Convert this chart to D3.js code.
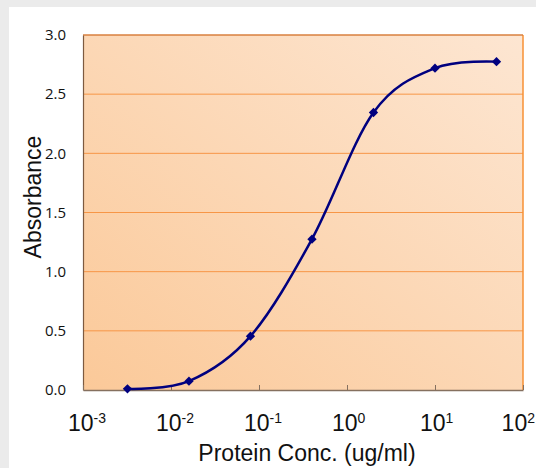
<!DOCTYPE html>
<html>
<head>
<meta charset="utf-8">
<script src="https://cdn.jsdelivr.net/npm/d3@7"></script>
<style>
  html, body { margin: 0; padding: 0; background: #ebebeb; }
  svg { display: block; }
</style>
</head>
<body>
<div id="chart"></div>
<script>
// data
var conc = [0.0032, 0.016, 0.08, 0.4, 2, 10, 50];
var absorbance = [0.01, 0.075, 0.455, 1.275, 2.345, 2.72, 2.775];
var yTicks = [0, 0.5, 1.0, 1.5, 2.0, 2.5, 3.0];
var xTicks = [1e-3, 1e-2, 1e-1, 1e0, 1e1, 1e2];
var xExponents = ["-3", "-2", "-1", "0", "1", "2"];

var width = 536, height = 468;
var plotLeft = 83, plotRight = 523, plotTop = 35, plotBottom = 390;

var svg = d3.select("#chart").append("svg")
  .attr("width", width)
  .attr("height", height);

// white panel on grey page
svg.append("rect")
  .attr("x", 9).attr("y", 7)
  .attr("width", width - 9).attr("height", height - 7)
  .attr("fill", "#ffffff");

var defs = svg.append("defs");
var grad = defs.append("linearGradient")
  .attr("id", "plotFill")
  .attr("x1", "0%").attr("y1", "100%")
  .attr("x2", "100%").attr("y2", "0%");
grad.append("stop").attr("offset", "0%").attr("stop-color", "#fbc999");
grad.append("stop").attr("offset", "100%").attr("stop-color", "#fde6d2");

var x = d3.scaleLog()
  .domain([1e-3, 1e2])
  .range([plotLeft, plotRight]);

var y = d3.scaleLinear()
  .domain([0, 3])
  .range([plotBottom, plotTop]);

// plot area
svg.append("rect")
  .attr("x", plotLeft).attr("y", plotTop)
  .attr("width", plotRight - plotLeft).attr("height", plotBottom - plotTop)
  .attr("fill", "url(#plotFill)");

// gridlines
svg.append("g")
  .selectAll("line")
  .data(yTicks.filter(function(d) { return d > 0; }))
  .enter().append("line")
    .attr("x1", plotLeft).attr("x2", plotRight)
    .attr("y1", function(d) { return y(d); })
    .attr("y2", function(d) { return y(d); })
    .attr("stroke", "#f79646")
    .attr("stroke-width", 1);

// borders
svg.append("line")
  .attr("x1", plotRight).attr("x2", plotRight).attr("y1", plotTop).attr("y2", plotBottom)
  .attr("stroke", "#f79035").attr("stroke-width", 1.5);
svg.append("line")
  .attr("x1", plotLeft).attr("x2", plotRight).attr("y1", plotTop).attr("y2", plotTop)
  .attr("stroke", "#c8753a").attr("stroke-width", 1);

// y axis
var yAxis = svg.append("g")
  .attr("transform", "translate(" + plotLeft + ",0)")
  .call(d3.axisLeft(y).tickValues(yTicks).tickSize(0).tickPadding(17)
    .tickFormat(d3.format(".1f")));
yAxis.select(".domain").attr("stroke", "#7d5a40").attr("stroke-width", 1.2);
yAxis.selectAll("text")
  .attr("font-family", "'Open Sans', sans-serif")
  .attr("font-size", 15)
  .attr("fill", "#111");

// x axis with inward ticks
var xAxis = svg.append("g")
  .attr("transform", "translate(0," + plotBottom + ")")
  .call(d3.axisBottom(x).tickValues(xTicks).tickSizeInner(-5).tickSizeOuter(0)
    .tickFormat(""));
xAxis.select(".domain").attr("stroke", "#85705f").attr("stroke-width", 1.5);
xAxis.selectAll(".tick line").attr("stroke", "#85705f");

// power-of-ten labels
var xLabels = svg.append("g")
  .selectAll("text")
  .data(xTicks)
  .enter().append("text")
    .attr("x", function(d) { return x(d) - 15; })
    .attr("y", 431)
    .attr("font-family", "'Liberation Sans', Arial, sans-serif")
    .attr("font-size", 23)
    .attr("fill", "#111");
xLabels.append("tspan").text("10");
xLabels.append("tspan")
  .attr("dy", -8)
  .attr("font-size", 14)
  .text(function(d, i) { return xExponents[i]; });
// keep the last label inside the window
xLabels.each(function() {
  var t = d3.select(this);
  var w = this.getComputedTextLength();
  var x0 = +t.attr("x");
  if (x0 + w > width - 1) t.attr("x", width - 1 - w);
});

// axis titles
svg.append("text")
  .attr("transform", "translate(41," + 197 + ") rotate(-90)")
  .attr("text-anchor", "middle")
  .attr("font-family", "'Liberation Sans', Arial, sans-serif")
  .attr("font-size", 23)
  .attr("fill", "#111")
  .text("Absorbance");

svg.append("text")
  .attr("x", 307).attr("y", 461)
  .attr("text-anchor", "middle")
  .attr("font-family", "'Liberation Sans', Arial, sans-serif")
  .attr("font-size", 23)
  .attr("fill", "#111")
  .text("Protein Conc. (ug/ml)");

// curve
var points = conc.map(function(c, i) { return [c, absorbance[i]]; });

var line = d3.line()
  .x(function(d) { return x(d[0]); })
  .y(function(d) { return y(d[1]); })
  .curve(d3.curveCardinal.tension(0));

svg.append("path")
  .datum(points)
  .attr("d", line)
  .attr("fill", "none")
  .attr("stroke", "#00007f")
  .attr("stroke-width", 2.5);

svg.append("g")
  .selectAll("path")
  .data(points)
  .enter().append("path")
    .attr("d", d3.symbol().type(d3.symbolDiamond2).size(55))
    .attr("transform", function(d) { return "translate(" + x(d[0]) + "," + y(d[1]) + ")"; })
    .attr("fill", "#00007f");
</script>
</body>
</html>
